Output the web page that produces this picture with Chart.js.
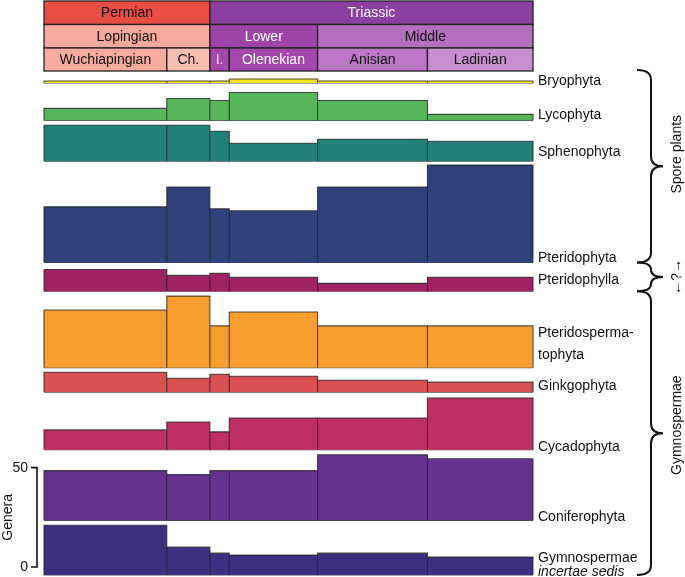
<!DOCTYPE html>
<html>
<head>
<meta charset="utf-8">
<script src="https://cdn.jsdelivr.net/npm/chart.js@4.4.1/dist/chart.umd.min.js"></script>
<style>
  html, body { margin: 0; padding: 0; background: #fff; }
</style>
</head>
<body>
<canvas id="chart" width="685" height="577"></canvas>
<script>
// stage boundaries in Ma, oldest first
var stageBounds = [259.7, 254.0, 252.0, 251.1, 247.0, 241.9, 237.0];
var stageNames = ["Wuchiapingian", "Ch.", "I.", "Olenekian", "Anisian", "Ladinian"];
var epochNames = ["Lopingian", "Lower", "Middle"];
var epochSpans = [[0, 2], [2, 4], [4, 6]];
var periodNames = ["Permian", "Triassic"];
var periodSpans = [[0, 2], [2, 6]];

// genera per stage, one list per group (top to bottom)
var groupNames = ["Bryophyta", "Lycophyta", "Sphenophyta", "Pteridophyta", "Pteridophylla",
  "Pteridosperma-\ntophyta", "Ginkgophyta", "Cycadophyta", "Coniferophyta", "Gymnospermae\nincertae sedis"];
var bryophyta     = [1, 1, 1, 2, 1, 1];
var lycophyta     = [6, 11, 10, 14, 10, 3];
var sphenophyta   = [18, 18, 15, 9, 11, 10];
var pteridophyta  = [28, 38, 27, 26, 38, 49];
var pteridophylla = [11, 8, 9, 7, 4, 7];
var pteridosperms = [29, 36, 21, 28, 21, 21];
var ginkgophyta   = [10, 7, 9, 8, 6, 5];
var cycadophyta   = [10, 14, 9, 16, 16, 26];
var coniferophyta = [25, 23, 25, 25, 33, 31];
var incertaeSedis = [25, 14, 11, 10, 11, 9];
var scaleTicks = [0, 50];

var groupValues = [bryophyta, lycophyta, sphenophyta, pteridophyta, pteridophylla,
  pteridosperms, ginkgophyta, cycadophyta, coniferophyta, incertaeSedis];
var groupColors = ["#f3e21a", "#58b65a", "#22807a", "#2f407a", "#a02262",
  "#f89e2f", "#d95053", "#bd2f65", "#67318f", "#3e2f82"];

// white space (in genera) below each band, down to the next band's top
var bandGaps = [4.8, 2.5, 2, 3.5, 2.4, 2.3, 3, 2.5, 2.5];
var FONT = '"Liberation Sans", Arial, sans-serif';

// baselines, stacked from the bottom band upwards
var bases = [];
var level = 0;
for (var g = groupValues.length - 1; g >= 0; g--) {
  bases[g] = level;
  level += Math.max.apply(null, groupValues[g]);
  if (g > 0) level += bandGaps[g - 1];
}
var yTop = level;

function bandPoints(vals, base) {
  var pts = [{ x: stageBounds[0], y: base }];
  for (var i = 0; i < vals.length; i++) {
    pts.push({ x: stageBounds[i], y: base + vals[i] });
    pts.push({ x: stageBounds[i + 1], y: base + vals[i] });
    pts.push({ x: stageBounds[i + 1], y: base });
  }
  return pts;
}

var datasets = [];
groupValues.forEach(function (vals, g) {
  datasets.push({
    label: groupNames[g],
    data: bandPoints(vals, bases[g]),
    showLine: true,
    fill: { value: bases[g] },
    backgroundColor: groupColors[g],
    borderColor: "rgba(35,35,35,0.8)",
    borderWidth: 1.1,
    pointRadius: 0,
    clip: false
  });
  datasets.push({
    data: [{ x: stageBounds[0], y: bases[g] }, { x: stageBounds[stageBounds.length - 1], y: bases[g] }],
    showLine: true,
    fill: false,
    borderColor: "rgba(35,35,35,0.8)",
    borderWidth: 1.1,
    pointRadius: 0,
    clip: false
  });
});

// geological time scale on top
var headerPlugin = {
  id: "header",
  afterDraw: function (chart) {
    var ctx = chart.ctx, x = chart.scales.x;
    var rows = [1, 24.5, 48, 71];
    function cell(a, b, row, text, fill, ink) {
      var x0 = x.getPixelForValue(stageBounds[a]), x1 = x.getPixelForValue(stageBounds[b]);
      var y0 = rows[row], y1 = rows[row + 1];
      ctx.fillStyle = fill;
      ctx.fillRect(x0, y0, x1 - x0, y1 - y0);
      ctx.strokeStyle = "#222";
      ctx.lineWidth = 1.3;
      ctx.strokeRect(x0, y0, x1 - x0, y1 - y0);
      ctx.fillStyle = ink;
      ctx.font = "14px " + FONT;
      ctx.textAlign = "center";
      ctx.textBaseline = "middle";
      ctx.fillText(text, (x0 + x1) / 2, (y0 + y1) / 2 + 0.5);
    }
    ctx.save();
    var pFill = ["#e84d43", "#8b3fa0"], pInk = ["#111", "#fff"];
    periodNames.forEach(function (n, i) { cell(periodSpans[i][0], periodSpans[i][1], 0, n, pFill[i], pInk[i]); });
    var eFill = ["#f6a99c", "#9e44a9", "#b46ebe"], eInk = ["#111", "#fff", "#111"];
    epochNames.forEach(function (n, i) { cell(epochSpans[i][0], epochSpans[i][1], 1, n, eFill[i], eInk[i]); });
    var sFill = ["#f7aa9e", "#f9bdb3", "#a548ad", "#a448ad", "#bd77c7", "#c98dd2"];
    var sInk = ["#111", "#111", "#fff", "#fff", "#111", "#111"];
    stageNames.forEach(function (n, i) { cell(i, i + 1, 2, n, sFill[i], sInk[i]); });
    ctx.restore();
  }
};

// group names, braces and the genera scale bar
var sidePlugin = {
  id: "side",
  afterDraw: function (chart) {
    var ctx = chart.ctx, y = chart.scales.y, area = chart.chartArea;
    var nudge = [-1.5, -5, -9, -4, -11, -13, -6, -3, -3, -3];
    var lineGap = [0, 0, 0, 0, 0, 22, 0, 0, 0, 14];
    ctx.save();
    ctx.fillStyle = "#111";
    ctx.textAlign = "left";
    ctx.textBaseline = "middle";
    groupNames.forEach(function (name, g) {
      var lines = name.split("\n");
      var yb = y.getPixelForValue(bases[g]) + nudge[g];
      for (var k = 0; k < lines.length; k++) {
        var italic = (g === groupNames.length - 1 && k === 1);
        ctx.font = (italic ? "italic " : "") + "14px " + FONT;
        ctx.fillText(lines[k], area.right + 5, yb - (lines.length - 1 - k) * lineGap[g]);
      }
    });

    function brace(top, bottom, tip) {
      var xl = 637, xm = 651, xt = 663;
      var r = Math.min(10, (bottom - top) / 4);
      ctx.beginPath();
      ctx.moveTo(xl, top);
      ctx.quadraticCurveTo(xm, top, xm, top + r);
      ctx.lineTo(xm, tip - r);
      ctx.quadraticCurveTo(xm, tip, xt, tip);
      ctx.quadraticCurveTo(xm, tip, xm, tip + r);
      ctx.lineTo(xm, bottom - r);
      ctx.quadraticCurveTo(xm, bottom, xl, bottom);
      ctx.stroke();
    }
    function vtext(text, cx, cy) {
      ctx.save();
      ctx.translate(cx, cy);
      ctx.rotate(-Math.PI / 2);
      ctx.textAlign = "center";
      ctx.textBaseline = "middle";
      ctx.fillText(text, 0, 0);
      ctx.restore();
    }
    ctx.strokeStyle = "#111";
    ctx.lineWidth = 2;
    ctx.font = "14px " + FONT;
    var spTop = y.getPixelForValue(yTop) - 9;
    var spBot = y.getPixelForValue(bases[3]);
    var phBot = y.getPixelForValue(bases[4]);
    var gyBot = y.getPixelForValue(bases[9]);
    brace(spTop, spBot, (spTop + spBot) / 2);
    brace(spBot, phBot, (spBot + phBot) / 2);
    brace(phBot, gyBot, (phBot + gyBot) / 2);
    vtext("Spore plants", 677, (spTop + spBot) / 2 - 12);
    vtext("\u2190?\u2192", 677, (spBot + phBot) / 2);
    vtext("Gymnospermae", 677, (phBot + gyBot) / 2 - 8);

    // scale bar: 50 genera
    var sb0 = y.getPixelForValue(bases[9] + 4 + scaleTicks[0]);
    var sb1 = y.getPixelForValue(bases[9] + 4 + scaleTicks[1]);
    var sx = area.left - 7;
    ctx.lineWidth = 1.6;
    ctx.beginPath();
    ctx.moveTo(sx - 6, sb1); ctx.lineTo(sx, sb1); ctx.lineTo(sx, sb0); ctx.lineTo(sx - 6, sb0);
    ctx.stroke();
    ctx.textAlign = "right";
    ctx.textBaseline = "middle";
    ctx.fillText(String(scaleTicks[1]), sx - 9, sb1);
    ctx.fillText(String(scaleTicks[0]), sx - 9, sb0);
    vtext("Genera", 8, (sb0 + sb1) / 2);
    ctx.restore();
  }
};

new Chart(document.getElementById("chart"), {
  type: "scatter",
  data: { datasets: datasets },
  options: {
    responsive: false,
    animation: false,
    layout: { padding: { left: 44, right: 152, top: 79, bottom: 2 } },
    elements: { line: { tension: 0 } },
    scales: {
      x: { type: "linear", reverse: true, min: stageBounds[stageBounds.length - 1], max: stageBounds[0], display: false },
      y: { type: "linear", min: 0, max: yTop, display: false }
    },
    plugins: { legend: { display: false }, tooltip: { enabled: false } }
  },
  plugins: [headerPlugin, sidePlugin]
});
</script>
</body>
</html>
